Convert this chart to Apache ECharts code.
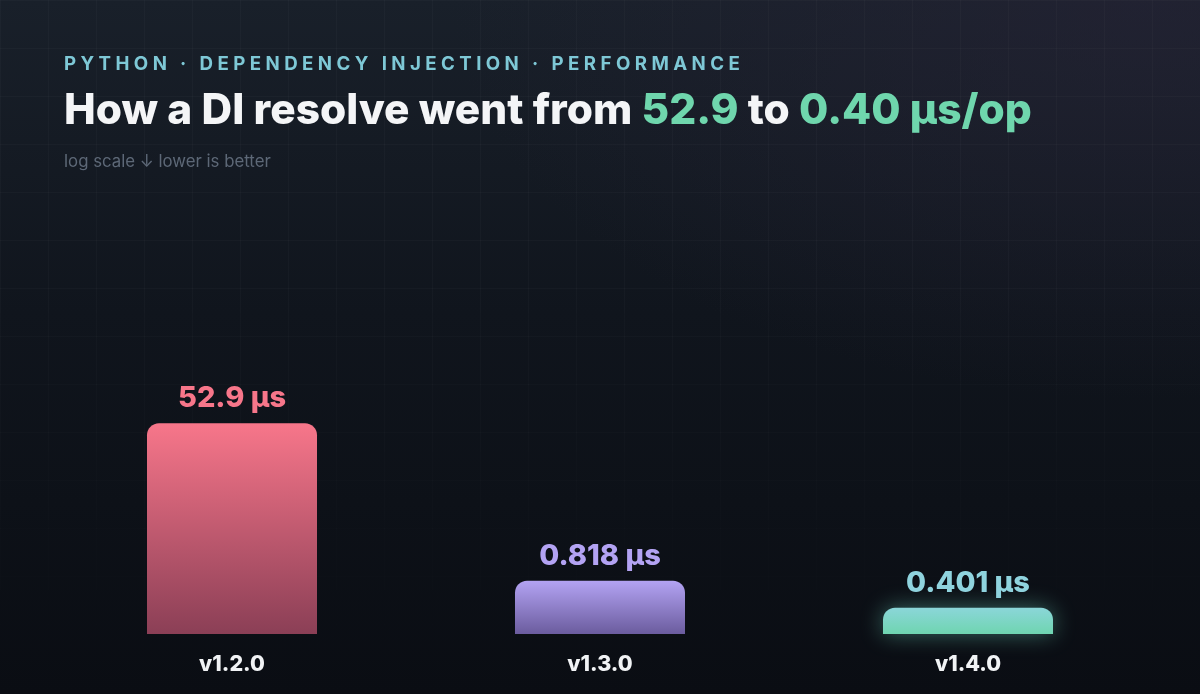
<!DOCTYPE html>
<html>
<head>
<meta charset="utf-8">
<script src="https://cdn.jsdelivr.net/npm/echarts@6/dist/echarts.min.js"></script>
<style>
html, body {
  margin: 0;
  width: 1200px;
  height: 694px;
  overflow: hidden;
  background:
    radial-gradient(ellipse 700px 400px at 1150px 0px, rgba(40, 36, 56, 0.55), transparent),
    linear-gradient(180deg, #19202a 0%, #10151d 45%, #0a0d13 100%);
}
body::before {
  content: '';
  position: absolute;
  left: 0; top: 0; width: 1200px; height: 694px;
  background-image:
    linear-gradient(rgba(255,255,255,0.024) 1px, transparent 1px),
    linear-gradient(90deg, rgba(255,255,255,0.024) 1px, transparent 1px);
  background-size: 48px 48px;
  -webkit-mask-image: linear-gradient(180deg, #000 0%, #000 40%, transparent 100%);
  mask-image: linear-gradient(180deg, #000 0%, #000 40%, transparent 100%);
}
#main {
  position: absolute;
  left: 0; top: 0;
  width: 1200px;
  height: 694px;
}
</style>
</head>
<body>
<div id="main"></div>
<script>
// 数据
const versions = ['v1.2.0', 'v1.3.0', 'v1.4.0'];
const resolveUs = [52.9, 0.818, 0.401];
const axisMin = 0.2;
const axisMax = 200;
const barColors = [
  ['#f7768a', '#8b3f56'],
  ['#b3a3f3', '#6b5c9e'],
  ['#8bd6d9', '#6fd5b0']
];
const labelColors = ['#f7768a', '#b3a3f3', '#8fd3de'];

const kicker = 'PYTHON · DEPENDENCY INJECTION · PERFORMANCE';
// 字间距：用细空格拉开
const spaced = kicker.split('').join('\u2009\u200A');

const chart = echarts.init(document.getElementById('main'), null, { renderer: 'canvas' });

// log 轴上的柱子从轴最小值开始画
function renderBar(params, api) {
  const i = params.dataIndex;
  const top = api.coord([api.value(0), api.value(1)]);
  const bottom = api.coord([api.value(0), axisMin]);
  const w = api.size([1, 0])[0] * 0.462;
  return {
    type: 'rect',
    shape: { x: top[0] - w / 2, y: top[1], width: w, height: bottom[1] - top[1], r: [12, 12, 0, 0] },
    style: {
      fill: new echarts.graphic.LinearGradient(0, 0, 0, 1, [
        { offset: 0, color: barColors[i][0] },
        { offset: 1, color: barColors[i][1] }
      ]),
      shadowBlur: i === 2 ? 22 : 0,
      shadowColor: 'rgba(110, 214, 190, 0.45)'
    },
    textContent: {
      style: {
        text: api.value(1) + ' µs',
        fill: labelColors[i],
        fontSize: 29,
        fontWeight: 800,
        fontFamily: 'Inter'
      }
    },
    textConfig: { position: 'top', distance: 10 }
  };
}

chart.setOption({
  backgroundColor: 'transparent',
  textStyle: { fontFamily: 'Inter, "Noto Sans", sans-serif' },
  title: [
    {
      text: spaced,
      left: 59,
      top: 50,
      textStyle: { color: '#7ec8d6', fontSize: 18.7, fontWeight: 'bold' }
    },
    {
      text: '{w|How a DI resolve went from }{g|52.9}{w| to }{g|0.40 µs/op}',
      left: 59,
      top: 85,
      textStyle: {
        rich: {
          w: { color: '#f4f5f7', fontSize: 42.4, fontWeight: 800, fontFamily: 'Inter' },
          g: { color: '#6fd6ad', fontSize: 42.4, fontWeight: 800, fontFamily: 'Inter' }
        }
      }
    },
    {
      text: 'log scale ↓ lower is better',
      left: 59,
      top: 148,
      textStyle: { color: '#5d6877', fontSize: 16.8, fontWeight: 'normal' }
    }
  ],
  grid: { left: 48, right: 48, top: 373, bottom: 60 },
  xAxis: {
    type: 'category',
    data: versions,
    axisLine: { show: false },
    axisTick: { show: false },
    axisLabel: { color: '#f1f3f5', fontSize: 21.5, fontWeight: 800, margin: 20 }
  },
  yAxis: {
    type: 'log',
    logBase: 10,
    min: axisMin,
    max: axisMax,
    show: false
  },
  series: [{
    type: 'custom',
    renderItem: renderBar,
    encode: { x: 0, y: 1 },
    data: versions.map(function (v, i) { return [i, resolveUs[i]]; })
  }]
});
</script>
</body>
</html>
